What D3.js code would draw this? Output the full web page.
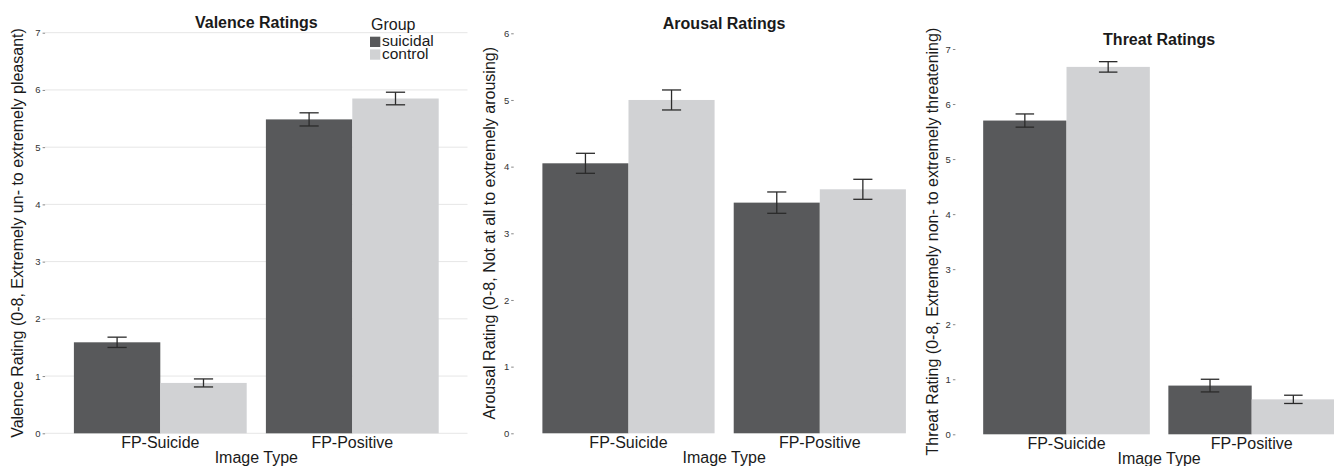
<!DOCTYPE html>
<html>
<head>
<meta charset="utf-8">
<script src="https://cdn.jsdelivr.net/npm/d3@7"></script>
<style>
  body { margin: 0; background: #fff; }
  text { font-family: "Liberation Sans", Arial, Helvetica, sans-serif; }
</style>
</head>
<body>
<div id="chart"></div>
<script>
// categories and groups
const categories = ["FP-Suicide", "FP-Positive"];
const groups = ["suicidal", "control"];

// valence (means and standard errors, per category)
const valenceSuicidal = [1.59, 5.485];
const valenceControl = [0.88, 5.85];
const valenceSuicidalSE = [0.09, 0.115];
const valenceControlSE = [0.07, 0.11];

// arousal
const arousalSuicidal = [4.05, 3.46];
const arousalControl = [5.0, 3.66];
const arousalSuicidalSE = [0.15, 0.16];
const arousalControlSE = [0.15, 0.15];

// threat
const threatSuicidal = [5.70, 0.885];
const threatControl = [6.675, 0.635];
const threatSuicidalSE = [0.12, 0.115];
const threatControlSE = [0.095, 0.075];

// tick labels
const valenceTicks = [0, 1, 2, 3, 4, 5, 6, 7];
const arousalTicks = [0, 1, 2, 3, 4, 5, 6];
const threatTicks = [0, 1, 2, 3, 4, 5, 6, 7];

const color = d3.scaleOrdinal().domain(groups).range(["#58595b", "#d1d2d4"]);

const svg = d3.select("#chart")
    .append("svg")
    .attr("width", 1334)
    .attr("height", 466);

// build rows for one panel
function rows(sui, con, suiSE, conSE) {
    return categories.map((c, i) => ({
        cat: c,
        values: [
            { key: "suicidal", value: sui[i], se: suiSE[i] },
            { key: "control", value: con[i], se: conSE[i] }
        ]
    }));
}

const panels = [
    { title: "Valence Ratings", ytitle: "Valence Rating (0-8, Extremely un- to extremely pleasant)",
      data: rows(valenceSuicidal, valenceControl, valenceSuicidalSE, valenceControlSE),
      ticks: valenceTicks, left: 45.1, right: 467.5, bottom: 433.3, top: 32.7, grid: true,
      titleY: 28.3, ytitleX: 22.5, legend: true },
    { title: "Arousal Ratings", ytitle: "Arousal Rating (0-8, Not at all to extremely arousing)",
      data: rows(arousalSuicidal, arousalControl, arousalSuicidalSE, arousalControlSE),
      ticks: arousalTicks, left: 513.7, right: 934.6, bottom: 433.3, top: 33.3, grid: false,
      titleY: 28.8, ytitleX: 494.5 },
    { title: "Threat Ratings", ytitle: "Threat Rating (0-8, Extremely non- to extremely threatening)",
      data: rows(threatSuicidal, threatControl, threatSuicidalSE, threatControlSE),
      ticks: threatTicks, left: 955.4, right: 1362.8, bottom: 434.3, top: 49, grid: false,
      titleY: 44.8, ytitleX: 937.5 }
];

panels.forEach(function (p) {
    const g = svg.append("g");

    const x = d3.scalePoint()
        .domain(categories)
        .range([p.left, p.right])
        .padding(0.6);
    const step = x.step();

    const xSub = d3.scaleBand()
        .domain(groups)
        .range([-0.45 * step, 0.45 * step]);

    const y = d3.scaleLinear()
        .domain([0, d3.max(p.ticks)])
        .range([p.bottom, p.top]);

    // grid
    if (p.grid) {
        g.append("g")
            .selectAll("line")
            .data(p.ticks)
            .enter().append("line")
            .attr("x1", p.left)
            .attr("x2", p.right)
            .attr("y1", d => y(d))
            .attr("y2", d => y(d))
            .style("stroke", "#e6e6e6")
            .style("stroke-width", 1);
    }

    // y axis
    const yAxis = g.append("g")
        .attr("transform", `translate(${p.left},0)`)
        .call(d3.axisLeft(y).tickValues(p.ticks).tickSize(2.5).tickPadding(2).tickFormat(d3.format("d")));
    yAxis.select(".domain").remove();
    yAxis.selectAll(".tick line").style("stroke", "#888");
    yAxis.selectAll(".tick text")
        .style("font-size", "9.5px")
        .style("fill", "#333")
        .style("font-family", "'Liberation Sans', Arial, sans-serif");

    // bars
    const grp = g.append("g")
        .selectAll("g")
        .data(p.data)
        .enter()
        .append("g")
        .attr("transform", d => `translate(${x(d.cat)},0)`);

    grp.selectAll("rect")
        .data(d => d.values)
        .enter().append("rect")
        .attr("x", d => xSub(d.key))
        .attr("y", d => y(d.value))
        .attr("width", xSub.bandwidth())
        .attr("height", d => y(0) - y(d.value))
        .attr("fill", d => color(d.key));

    // error bars
    const capW = 0.1 * step;
    const eb = grp.selectAll("g.eb")
        .data(d => d.values)
        .enter().append("g")
        .attr("class", "eb")
        .attr("transform", d => `translate(${xSub(d.key) + xSub.bandwidth() / 2},0)`)
        .style("stroke", "#2b2b2b")
        .style("stroke-width", 1.3);
    eb.append("line")
        .attr("x1", 0).attr("x2", 0)
        .attr("y1", d => y(d.value + d.se))
        .attr("y2", d => y(d.value - d.se));
    eb.append("line")
        .attr("x1", -capW / 2).attr("x2", capW / 2)
        .attr("y1", d => y(d.value + d.se))
        .attr("y2", d => y(d.value + d.se));
    eb.append("line")
        .attr("x1", -capW / 2).attr("x2", capW / 2)
        .attr("y1", d => y(d.value - d.se))
        .attr("y2", d => y(d.value - d.se));

    // x tick labels
    g.append("g")
        .selectAll("text")
        .data(categories)
        .enter().append("text")
        .attr("x", d => x(d))
        .attr("y", p.bottom + 15)
        .attr("text-anchor", "middle")
        .style("font-size", "16px")
        .style("fill", "#1a1a1a")
        .text(d => d);

    // x axis title
    g.append("text")
        .attr("x", (p.left + p.right) / 2)
        .attr("y", p.bottom + 30)
        .attr("text-anchor", "middle")
        .style("font-size", "16px")
        .style("fill", "#1a1a1a")
        .text("Image Type");

    // y axis title
    g.append("text")
        .attr("transform", `translate(${p.ytitleX},${(p.top + p.bottom) / 2}) rotate(-90)`)
        .attr("text-anchor", "middle")
        .style("font-size", "16px")
        .style("fill", "#1a1a1a")
        .text(p.ytitle);

    // title
    g.append("text")
        .attr("x", (p.left + p.right) / 2)
        .attr("y", p.titleY)
        .attr("text-anchor", "middle")
        .style("font-size", "16px")
        .style("font-weight", "bold")
        .style("fill", "#1a1a1a")
        .text(p.title);

    // legend
    if (p.legend) {
        const lg = g.append("g").attr("transform", "translate(370,0)");
        lg.append("text")
            .attr("x", 1)
            .attr("y", 30)
            .style("font-size", "16px")
            .style("fill", "#1a1a1a")
            .text("Group");
        const item = lg.selectAll("g.item")
            .data(groups)
            .enter().append("g")
            .attr("class", "item")
            .attr("transform", (d, i) => `translate(0,${36.7 + i * 12.7})`);
        item.append("rect")
            .attr("width", 10.3)
            .attr("height", 10.3)
            .attr("fill", d => color(d));
        item.append("text")
            .attr("x", 12)
            .attr("y", 9.5)
            .style("font-size", "15.5px")
            .style("fill", "#1a1a1a")
            .text(d => d);
    }
});
</script>
</body>
</html>
